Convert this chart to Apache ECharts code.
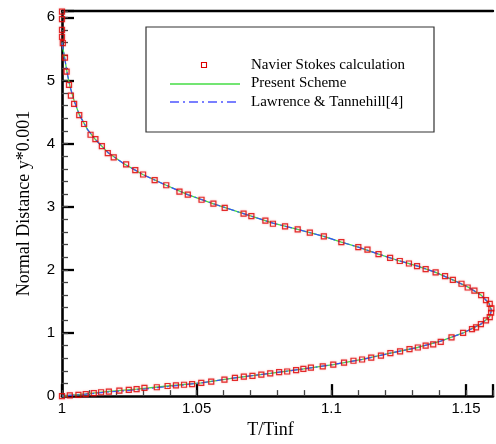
<!DOCTYPE html>
<html>
<head>
<meta charset="utf-8">
<script src="https://cdn.jsdelivr.net/npm/echarts@6/dist/echarts.min.js"></script>
<style>
html,body{margin:0;padding:0;background:#fff;}
#chart{width:496px;height:444px;}
</style>
</head>
<body>
<div id="chart"></div>
<script>
// Navier Stokes calculation (markers)
var nsX = [1.0,1.0,1.0,1.0,1.0003,1.0011,1.0017,1.0026,1.0033,1.0045,1.0064,1.0082,1.0106,1.0124,1.0148,1.017,1.0192,1.0238,1.0272,1.0301,1.0344,1.0387,1.0436,1.0467,1.0518,1.0562,1.0604,1.0674,1.0703,1.0755,1.0783,1.0828,1.0875,1.092,1.0972,1.1037,1.11,1.1134,1.1175,1.1218,1.1254,1.1288,1.1318,1.135,1.1387,1.1422,1.1451,1.1483,1.1506,1.1531,1.1556,1.1574,1.1588,1.1594,1.1593,1.1588,1.1574,1.1555,1.1537,1.1522,1.1489,1.1446,1.1406,1.1378,1.135,1.1321,1.129,1.1255,1.1219,1.1184,1.1148,1.1114,1.1082,1.1047,1.1007,1.0968,1.0924,1.0896,1.0869,1.0836,1.0806,1.0773,1.074,1.0707,1.0675,1.0642,1.0603,1.0554,1.0517,1.0483,1.0453,1.0423,1.0392,1.0352,1.0306,1.0277,1.0248,1.0213,1.0174,1.0145,1.0118,1.0088,1.0061,1.0029,1.0];
var nsY = [6.09,5.97,5.8,5.69,5.59,5.36,5.14,4.93,4.76,4.63,4.45,4.31,4.14,4.07,3.96,3.85,3.78,3.67,3.58,3.51,3.42,3.34,3.24,3.19,3.11,3.05,2.98,2.89,2.85,2.78,2.73,2.69,2.64,2.59,2.53,2.44,2.36,2.32,2.25,2.19,2.14,2.1,2.06,2.01,1.96,1.9,1.84,1.78,1.72,1.67,1.6,1.52,1.46,1.39,1.32,1.25,1.2,1.14,1.09,1.06,1.0,0.93,0.86,0.82,0.8,0.77,0.745,0.71,0.68,0.64,0.61,0.58,0.56,0.53,0.5,0.47,0.45,0.43,0.41,0.39,0.38,0.36,0.34,0.32,0.31,0.29,0.26,0.23,0.21,0.19,0.18,0.17,0.16,0.14,0.13,0.11,0.1,0.086,0.07,0.061,0.046,0.031,0.02,0.01,0.0];
// Present Scheme (solid line)
var psX = [1.0,1.001,1.002,1.003,1.0045,1.0065,1.0095,1.0125,1.017,1.023,1.03,1.0387,1.0467,1.056,1.0674,1.0783,1.0875,1.0972,1.1037,1.11,1.1175,1.1254,1.132,1.1387,1.1451,1.1506,1.1556,1.1585,1.1594,1.1588,1.1555,1.1489,1.1406,1.132,1.1219,1.1114,1.1007,1.0896,1.0773,1.0642,1.0517,1.0392,1.0277,1.0174,1.0088,1.0];
var psY = [5.6,5.35,5.1,4.9,4.68,4.45,4.22,4.06,3.86,3.68,3.51,3.34,3.19,3.05,2.89,2.74,2.64,2.53,2.44,2.36,2.25,2.14,2.06,1.96,1.84,1.73,1.6,1.47,1.36,1.26,1.14,1.0,0.87,0.77,0.68,0.58,0.5,0.43,0.36,0.29,0.21,0.16,0.11,0.075,0.035,0.0];
// Lawrence & Tannehill[4] (dash-dot line)
var ltX = [1.0,1.001,1.002,1.003,1.0045,1.0065,1.0095,1.0125,1.017,1.023,1.03,1.0387,1.0467,1.056,1.0674,1.0783,1.0875,1.0972,1.1037,1.11,1.1175,1.1254,1.132,1.1387,1.1451,1.1506,1.1556,1.1585,1.1594,1.1588,1.1555,1.1489,1.1406,1.132,1.1219,1.1114,1.1007,1.0896,1.0773,1.0642,1.0517,1.0392,1.0277,1.0174,1.0088,1.0];
var ltY = [5.6,5.35,5.1,4.9,4.68,4.45,4.22,4.06,3.86,3.68,3.51,3.34,3.19,3.05,2.89,2.74,2.64,2.53,2.44,2.36,2.25,2.14,2.06,1.96,1.84,1.73,1.6,1.47,1.36,1.26,1.14,1.0,0.87,0.77,0.68,0.58,0.5,0.43,0.36,0.29,0.21,0.15,0.1,0.065,0.03,0.0];
var seriesNames = ['Navier Stokes calculation','Present Scheme','Lawrence & Tannehill[4]'];
var xTitle = 'T/Tinf';
var yTitle = 'Normal Distance y*0.001';

function pairs(xs, ys){ return xs.map(function(x,i){ return [x, ys[i]]; }); }

var chart = echarts.init(document.getElementById('chart'), null, {renderer:'canvas'});
var serifFont = 'Liberation Serif';
var sansFont = 'Liberation Sans';

var legendItems = [];
var lx = 146, ly = 27;
legendItems.push({type:'rect', shape:{x:lx, y:ly, width:288, height:105}, style:{fill:'#fff', stroke:'#333', lineWidth:1.2}, z:100});
legendItems.push({type:'rect', shape:{x:201.5, y:62.5, width:5, height:5}, style:{fill:'none', stroke:'#dd0000', lineWidth:1.1}, z:101});
legendItems.push({type:'line', shape:{x1:170, y1:84, x2:240, y2:84}, style:{stroke:'#44dd44', lineWidth:1.3}, z:101});
legendItems.push({type:'line', shape:{x1:170, y1:102, x2:240, y2:102}, style:{stroke:'#4d55ff', lineWidth:1.3, lineDash:[9,4,2,4]}, z:101});
[65, 83.3, 101.7].forEach(function(yy, i){
  legendItems.push({type:'text', x:251, y:yy, style:{text:seriesNames[i], font:'15px ' + serifFont, fill:'#000', verticalAlign:'middle', align:'left'}, z:101});
});

var option = {
  animation:false,
  backgroundColor:'#fff',
  grid:{left:62, top:11, width:435, height:398.3, containLabel:false},
  xAxis:[
    {type:'value', position:'bottom', min:1, max:1.16, interval:0.05,
     axisLine:{show:true, onZero:false, lineStyle:{color:'#000', width:2.7}},
     axisTick:{show:true, inside:true, length:12, lineStyle:{color:'#000', width:2.3}},
     axisLabel:{show:true, margin:5, color:'#000', fontFamily:sansFont, fontSize:15,
       formatter:function(v){ var r=Math.round(v*20); if (Math.abs(v*20-r)>1e-6) return ''; return String(parseFloat(v.toFixed(2))); }},
     splitLine:{show:false},
     name:xTitle, nameLocation:'middle', nameGap:16,
     nameTextStyle:{fontFamily:serifFont, fontSize:18, color:'#000', padding:[0,14,0,0]}},
    {type:'value', position:'bottom', min:1, max:1.16, interval:0.01,
     axisLine:{show:false, onZero:false},
     axisTick:{show:true, inside:true, length:6, lineStyle:{color:'#444', width:1.3}},
     axisLabel:{show:false}, splitLine:{show:false}},
    {type:'value', position:'top', min:1, max:1.16,
     axisLine:{show:true, onZero:false, lineStyle:{color:'#000', width:2.4}},
     axisTick:{show:false}, axisLabel:{show:false}, splitLine:{show:false}}
  ],
  yAxis:[
    {type:'value', position:'left', min:0, max:6.1, interval:1,
     axisLine:{show:true, onZero:false, lineStyle:{color:'#000', width:2.6}},
     axisTick:{show:true, inside:true, length:12, lineStyle:{color:'#000', width:2.3}},
     axisLabel:{show:true, margin:7, color:'#000', fontFamily:sansFont, fontSize:15,
       formatter:function(v){ if (Math.abs(v-Math.round(v))>1e-6) return ''; return String(Math.round(v)); }},
     splitLine:{show:false},
     name:yTitle, nameLocation:'middle', nameGap:29,
     nameTextStyle:{fontFamily:serifFont, fontSize:18, color:'#000'}},
    {type:'value', position:'left', min:0, max:6.1, interval:0.2,
     axisLine:{show:false, onZero:false},
     axisTick:{show:true, inside:true, length:6, lineStyle:{color:'#444', width:1.3}},
     axisLabel:{show:false}, splitLine:{show:false}}
  ],
  series:[
    {name:seriesNames[1], type:'line', xAxisIndex:0, yAxisIndex:0, data:pairs(psX, psY),
     showSymbol:false, smooth:false, lineStyle:{color:'#44dd44', width:1.3}, z:2},
    {name:seriesNames[2], type:'line', xAxisIndex:0, yAxisIndex:0, data:pairs(ltX, ltY),
     showSymbol:false, smooth:false, lineStyle:{color:'#3350ff', width:1.2, type:[7,3,2,3]}, z:3},
    {name:seriesNames[0], type:'scatter', xAxisIndex:0, yAxisIndex:0, data:pairs(nsX, nsY),
     symbol:'rect', symbolSize:5, clip:false,
     itemStyle:{color:'rgba(0,0,0,0)', borderColor:'#dd0000', borderWidth:1.2, shadowBlur:2, shadowColor:'rgba(240,80,80,0.6)'}, z:4}
  ],
  graphic:legendItems
};
chart.setOption(option);
</script>
</body>
</html>
